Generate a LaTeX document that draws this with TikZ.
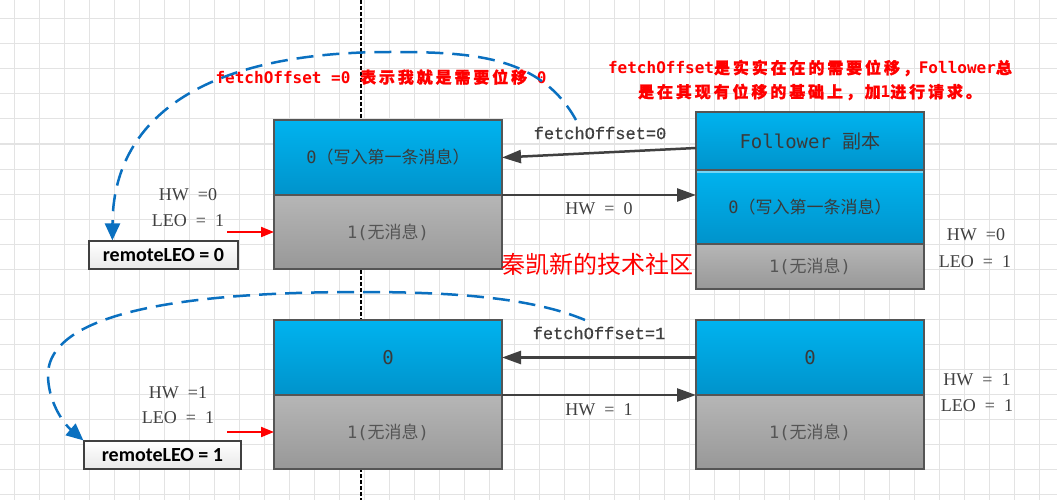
\documentclass[tikz,border=0pt]{standalone}
\usepackage{fontspec}
\usetikzlibrary{arrows.meta}
\setmainfont{Liberation Serif}
\newfontfamily\cjkfont{Noto Sans CJK SC}
\newfontfamily\cjkwide[LetterSpace=18,FakeBold=1.2]{Noto Sans CJK SC}
\newfontfamily\monofont{DejaVu Sans Mono}
\newfontfamily\lmonofont[FakeBold=0.6]{Liberation Mono}
\newfontfamily\califont{Carlito}
\newcommand{\myzh}[1]{{\cjkfont #1}}
\newcommand{\myzhw}[1]{{\cjkwide #1}}
\newcommand{\mymono}[1]{{\monofont #1}}
\newcommand{\wsp}{\hspace{9pt}}
\definecolor{boxblueT}{HTML}{00B3EF}
\definecolor{boxblueB}{HTML}{0093CB}
\definecolor{boxgrayT}{HTML}{B6B6B6}
\definecolor{boxgrayB}{HTML}{989898}
\definecolor{edgec}{HTML}{555555}
\definecolor{arrowgray}{HTML}{404040}
\definecolor{dashblue}{HTML}{0A70C0}
\definecolor{gridc}{HTML}{E3E3E3}
\definecolor{txtdark}{HTML}{3A3A3A}
\definecolor{txtgray}{HTML}{555555}
\definecolor{redtxt}{HTML}{FF0000}
\tikzset{
  sec/.style={draw=edgec, line width=1.5pt, minimum width=228pt, inner sep=0pt, outer sep=0pt, anchor=center},
  bluesec/.style={sec, top color=boxblueT, bottom color=boxblueB, text=txtdark, font=\fontsize{17}{19}\selectfont},
  graysec/.style={sec, top color=boxgrayT, bottom color=boxgrayB, text=txtgray, font=\fontsize{17}{19}\selectfont},
  remotebox/.style={draw=arrowgray, line width=1.2pt, top color=white, bottom color=black!9, inner sep=0pt, minimum height=28pt, font=\califont\bfseries\fontsize{20}{22}\selectfont},
  hwlab/.style={text=arrowgray, inner sep=0pt, font=\fontsize{18}{20}\selectfont},
  fetchlab/.style={text=arrowgray, inner sep=0pt, font=\lmonofont\fontsize{17}{19}\selectfont},
  redlab/.style={text=redtxt, inner sep=0pt, font=\bfseries\fontsize{16}{24}\selectfont},
  darrow/.style={draw=arrowgray, line width=2.5pt, -{Triangle[length=19pt,width=13pt]}},
  redarrow/.style={draw=redtxt, line width=2pt, -{Triangle[length=13pt,width=10pt]}},
  bluedash/.style={draw=dashblue, line width=2.5pt, dash pattern=on 17pt off 9pt, -{Triangle[length=17pt,width=15pt]}},
  gridline/.style={draw=gridc, line width=1pt}
}
\begin{document}
\begin{tikzpicture}[x=1pt,y=-1pt]
\useasboundingbox (0,0) rectangle (1057,500);
\fill[white] (0,0) rectangle (1057,500);
\foreach \gx in {14,39,...,1039} \draw[gridline] (\gx,0) -- (\gx,500);
\foreach \gy in {19,44,...,494} \draw[gridline] (0,\gy) -- (1057,\gy);
\draw[black, line width=1.2pt, dash pattern=on 4pt off 2pt] (361,0) -- (361,500);

% leader, top
\node[bluesec, minimum height=75pt] (L1top) at (388,157.5) {\mymono{0}\myzh{（写入第一条消息）}};
\node[graysec, minimum height=74pt] (L1bot) at (388,232) {\mymono{1(}\myzh{无消息}\mymono{)}};
% follower, top
\node[bluesec, minimum height=58pt, font=\fontsize{19}{21}\selectfont] (F1head) at (810,141) {\mymono{Follower }\myzh{副本}};
\node[bluesec, minimum height=74pt] (F1mid) at (810,207) {\mymono{0}\myzh{（写入第一条消息）}};
\node[graysec, minimum height=45pt] (F1bot) at (810,266.5) {\mymono{1(}\myzh{无消息}\mymono{)}};
\draw[boxblueT!55!white, line width=1.3pt] ([yshift=-2pt,xshift=1pt]F1mid.north west) -- ([yshift=-2pt,xshift=-1pt]F1mid.north east);
% leader, bottom
\node[bluesec, minimum height=75pt, font=\fontsize{19}{21}\selectfont] (L2top) at (388,357.5) {\mymono{0}};
\node[graysec, minimum height=74pt] (L2bot) at (388,432) {\mymono{1(}\myzh{无消息}\mymono{)}};
% follower, bottom
\node[bluesec, minimum height=75pt, font=\fontsize{19}{21}\selectfont] (F2top) at (810,357.5) {\mymono{0}};
\node[graysec, minimum height=74pt] (F2bot) at (810,432) {\mymono{1(}\myzh{无消息}\mymono{)}};

% remote LEO boxes
\node[remotebox, minimum width=149pt] (remote0) at (163.5,255) {remoteLEO = 0};
\node[remotebox, minimum width=157pt] (remote1) at (162.5,455) {remoteLEO = 1};

% fetch / HW arrows
\draw[darrow] ([yshift=-7pt]F1head.west) -- (L1top.east);
\draw[darrow] (L1top.south east) -- (L1top.south east -| F1mid.west);
\draw[darrow] (F2top.west) -- (L2top.east);
\draw[darrow] (L2top.south east) -- (L2top.south east -| F2top.west);
\node[fetchlab] (fl1) at (600,133) {fetchOffset=0};
\node[fetchlab] (fl2) at (599,333) {fetchOffset=1};
\node[hwlab] (hwa1) at (599,209) {HW\wsp=\wsp0};
\node[hwlab] (hwa2) at (599,410) {HW\wsp=\wsp1};

% red arrows
\coordinate (r1) at (227,232);
\coordinate (r2) at (227,432);
\draw[redarrow] (r1) -- (L1bot.west);
\draw[redarrow] (r2) -- (L2bot.west);

% HW / LEO labels
\node[hwlab] (lhw1) at (188,195) {HW\wsp=0};
\node[hwlab] (lleo1) at (188,221) {LEO\wsp=\wsp1};
\node[hwlab] (lhw2) at (178,393) {HW\wsp=1};
\node[hwlab] (lleo2) at (178,418) {LEO\wsp=\wsp1};
\node[hwlab] (rhw1) at (976,235) {HW\wsp=0};
\node[hwlab] (rleo1) at (975,262) {LEO\wsp=\wsp1};
\node[hwlab] (rhw2) at (977,380) {HW\wsp=\wsp1};
\node[hwlab] (rleo2) at (977,406) {LEO\wsp=\wsp1};

% red notes
\node[redlab] (note1) at (381,77) {\mymono{fetchOffset =0 }\myzhw{表示我就是需要位移}\mymono{ 0}};
\node[redlab, align=center] (note2) at (810,80) {\mymono{fetchOffset}\myzhw{是实实在在的需要位移，}\mymono{Follower}\myzhw{总}\\
\myzhw{是在其现有位移的基础上，加}\mymono{1}\myzhw{进行请求。}};
\node[text=redtxt, inner sep=0pt, font=\cjkfont\fontsize{24}{26}\selectfont] (mark) at (597,264) {秦凯新的技术社区};

% blue dashed curves
\coordinate (c1) at (576,120);
\coordinate (c2) at (585,320);
\draw[bluedash] (c1) .. controls (540,55) and (470,52) .. (390,52) .. controls (200,52) and (113,120) .. ([xshift=24pt]remote0.north west);
\draw[bluedash] (c2) .. controls (530,297) and (450,292) .. (360,292) .. controls (120,292) and (48,330) .. (48,375) .. controls (48,400) and (62,422) .. (remote1.north west);
\end{tikzpicture}
\end{document}
